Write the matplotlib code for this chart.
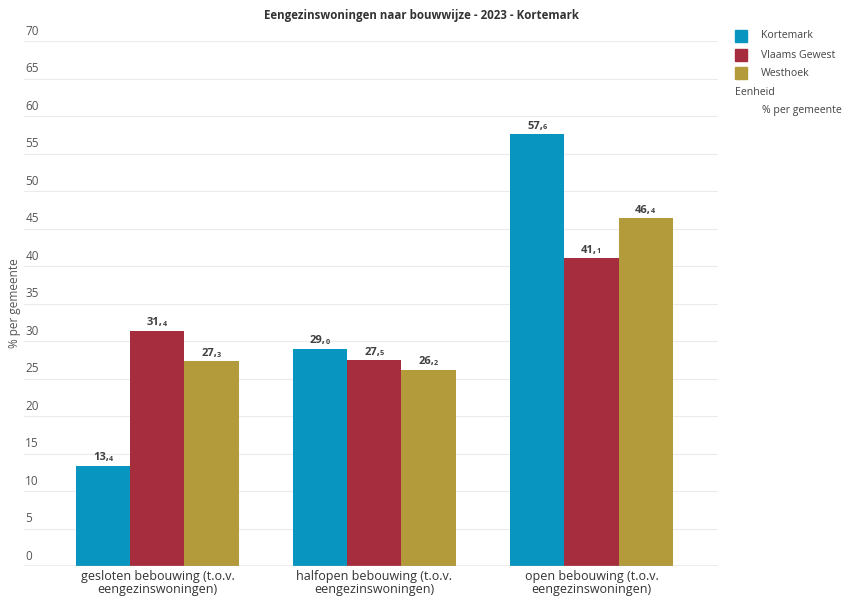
import matplotlib
matplotlib.use("Agg")
import matplotlib.pyplot as plt
import matplotlib.transforms as mtransforms
import numpy as np

plt.rcParams["font.family"] = ["Open Sans", "DejaVu Sans"]

# data
categories = ["gesloten bebouwing (t.o.v.\neengezinswoningen)",
              "halfopen bebouwing (t.o.v.\neengezinswoningen)",
              "open bebouwing (t.o.v.\neengezinswoningen)"]
series_names = ["Kortemark", "Vlaams Gewest", "Westhoek"]
kortemark = [13.4, 29.0, 57.6]
vlaams_gewest = [31.4, 27.5, 41.1]
westhoek = [27.3, 26.2, 46.4]
y_ticks = list(range(0, 75, 5))

colors = ["#0896c1", "#a62d3d", "#b39a3b"]
W, H = 844, 599

fig = plt.figure(figsize=(W / 100, H / 100), dpi=100)
ax = fig.add_axes([24 / W, 1 - 566 / H, 694 / W, 525 / H])

x = np.arange(len(categories))
bw = 0.249
all_series = [kortemark, vlaams_gewest, westhoek]
for i, (vals, name, col) in enumerate(zip(all_series, series_names, colors)):
    xs = x + (i - 1) * bw
    ax.bar(xs, vals, width=bw, color=col, label=name, zorder=3)
    # value label: bold integer part, smaller decimal
    for xi, v in zip(xs, vals):
        whole, dec = f"{v:.1f}".split(".")
        ax.annotate(whole + ",", (xi, v), xytext=(4, 1.5), textcoords="offset points",
                    ha="right", va="bottom", fontsize=8, fontweight="bold",
                    color="#404040", zorder=5)
        ax.annotate(dec, (xi, v), xytext=(3.8, 1.9), textcoords="offset points",
                    ha="left", va="bottom", fontsize=5.2, fontweight="bold",
                    color="#404040", zorder=5)

ax.set_xlim(-0.615, 2.583)
ax.set_ylim(0, 70)
ax.set_yticks(y_ticks)
ax.set_yticklabels([])
ax.tick_params(axis="y", length=0)
ax.grid(axis="y", color="#ebebeb", linewidth=0.8, zorder=0)
ax.axhline(0, color="#aaaaaa", linewidth=1.0, zorder=4)
for s in ax.spines.values():
    s.set_visible(False)

trans = mtransforms.blended_transform_factory(ax.transAxes, ax.transData)
for t in y_ticks:
    ax.annotate(str(t), (0, t), xycoords=trans, xytext=(1, 2.5),
                textcoords="offset points", ha="left", va="bottom",
                fontsize=8.5, color="#555555")

ax.set_xticks(x)
ax.set_xticklabels(categories, fontsize=9, color="#333333", linespacing=1.0)
ax.tick_params(axis="x", length=0, pad=3)

fig.text(0.5, 1 - 15 / H, "Eengezinswoningen naar bouwwijze - 2023 - Kortemark",
         ha="center", va="center", fontsize=8.3, fontweight="bold", color="#333333")
fig.text(15 / W, 1 - 303 / H, "% per gemeente", rotation=90, ha="center",
         va="center", fontsize=8.5, color="#555555")

# legend
leg_y = [36, 55, 73]
for yy, name, col in zip(leg_y, series_names, colors):
    fig.patches.append(plt.Rectangle((735 / W, 1 - (yy + 6) / H), 12 / W, 12 / H,
                                     transform=fig.transFigure, color=col))
    fig.text(761 / W, 1 - yy / H, name, ha="left", va="center", fontsize=7.6,
             color="#444444")
fig.text(735 / W, 1 - 92 / H, "Eenheid", ha="left", va="center", fontsize=7.6,
         color="#444444")
fig.text(762 / W, 1 - 111 / H, "% per gemeente", ha="left", va="center",
         fontsize=7.6, color="#444444")

fig.savefig("out.png", dpi=100, facecolor="white")
